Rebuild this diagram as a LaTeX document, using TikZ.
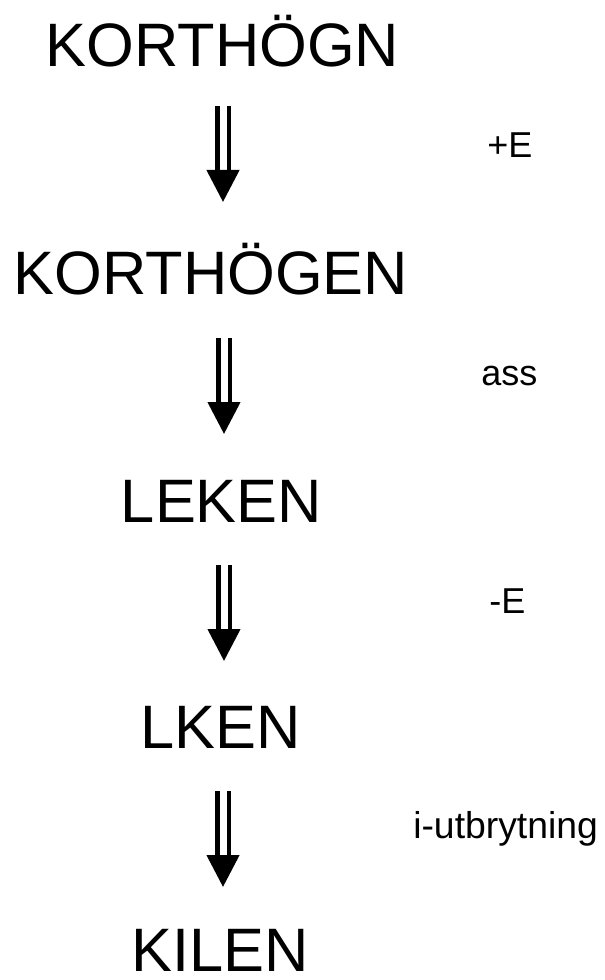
\documentclass[tikz,border=0pt]{standalone}
\usepackage{fontspec}
\setmainfont{Liberation Sans}
\usetikzlibrary{arrows.meta,positioning}
\tikzset{
  word/.style={font=\fontsize{46}{46}\selectfont, inner sep=0pt, text depth=0pt, anchor=base},
  rulename/.style={font=\fontsize{27}{27}\selectfont, inner sep=0pt, anchor=base west},
  impl/.style={double, double distance=5.25pt, line width=3.4pt,
    -{Triangle[length=24pt,width=24pt]}}
}
\begin{document}
\begin{tikzpicture}[x=0.75pt,y=-0.75pt]
\useasboundingbox (0,0) rectangle (605,980);
% forms
\node[word] (korthogn) at (222.5,67) {KORTHÖGN};
\node[word] (korthogen) at (211,295) {KORTHÖGEN};
\node[word] (leken) at (221.5,522) {LEKEN};
\node[word] (lken) at (221,748) {LKEN};
\node[word] (kilen) at (220.5,971) {KILEN};
% rules
\node[rulename] (r1) at (487,158) {+E};
\node[rulename] (r2) at (481,385) {ass};
\node[rulename] (r3) at (489,613) {-E};
\node[rulename, font=\fontsize{28}{28}\selectfont] (r4) at (413,838) {i-utbrytning};
% arrows
\coordinate (t1) at (223,106); \coordinate (h1) at (223,202);
\coordinate (t2) at (224,338); \coordinate (h2) at (224,434);
\coordinate (t3) at (224,565); \coordinate (h3) at (224,661);
\coordinate (t4) at (223,791); \coordinate (h4) at (223,887);
\draw[impl] (t1) -- (h1);
\draw[impl] (t2) -- (h2);
\draw[impl] (t3) -- (h3);
\draw[impl] (t4) -- (h4);
\end{tikzpicture}
\end{document}
